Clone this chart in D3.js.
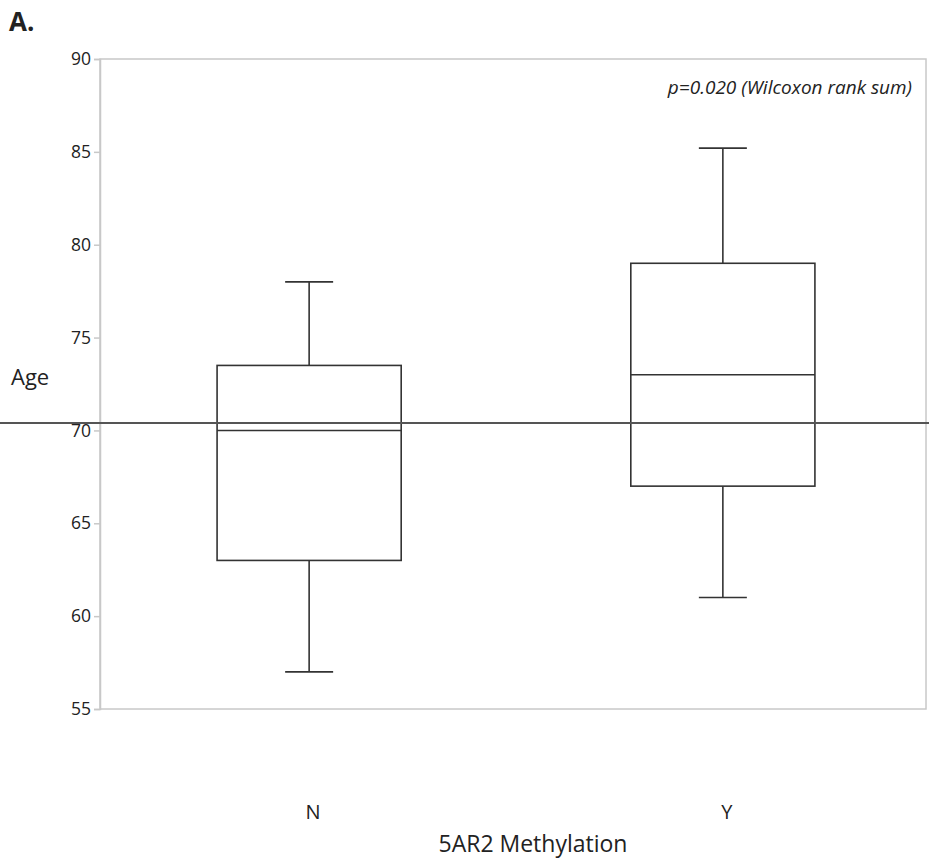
<!DOCTYPE html>
<html>
<head>
<meta charset="utf-8">
<script src="https://cdn.jsdelivr.net/npm/d3@7"></script>
<style>
  body { margin: 0; background: #fff; }
  text { font-family: "Open Sans", "DejaVu Sans", sans-serif; fill: #222; }
</style>
</head>
<body>
<div id="chart"></div>
<script>
// data
var groups = ["N", "Y"];
var whiskerLow = [57, 61];
var q1 = [63, 67];
var medians = [70, 73];
var q3 = [73.5, 79];
var whiskerHigh = [78, 85.2];
var refLine = 70.4;
var yTicks = [55, 60, 65, 70, 75, 80, 85, 90];

(function() {
  var W = 929, H = 863;
  var pl = 100, pr = 926, pt = 59, pb = 709;

  var svg = d3.select("#chart").append("svg")
    .attr("width", W).attr("height", H);

  var y = d3.scaleLinear().domain([55, 90]).range([pb, pt]);
  var x = d3.scaleBand().domain(groups).range([pl, 932])
    .paddingInner(0.555).paddingOuter(0.283);

  // frame
  svg.append("rect")
    .attr("x", pl).attr("y", pt)
    .attr("width", pr - pl).attr("height", pb - pt)
    .attr("fill", "none").attr("stroke", "#c8c8c8").attr("stroke-width", 1.5);

  // y axis
  var yAxis = d3.axisLeft(y).tickValues(yTicks).tickSize(6).tickPadding(3);
  var ga = svg.append("g").attr("transform", "translate(" + pl + ",0)").call(yAxis);
  ga.select(".domain").attr("stroke", "#c8c8c8").attr("stroke-width", 1.5);
  ga.selectAll(".tick line").attr("stroke", "#c8c8c8").attr("stroke-width", 1.5);
  ga.selectAll(".tick text").style("font-size", "17.5px").attr("fill", "#333");

  // boxes
  var capW = 24;
  var boxes = svg.append("g").selectAll("g").data(groups).enter().append("g");
  boxes.each(function(g, i) {
    var s = d3.select(this);
    var x0 = x(g), bw = x.bandwidth(), cx = x0 + bw / 2;
    function ln(x1, y1, x2, y2) {
      s.append("line").attr("x1", x1).attr("y1", y1).attr("x2", x2).attr("y2", y2)
        .attr("stroke", "#333").attr("stroke-width", 1.6);
    }
    ln(cx, y(whiskerLow[i]), cx, y(q1[i]));
    ln(cx, y(q3[i]), cx, y(whiskerHigh[i]));
    ln(cx - capW, y(whiskerLow[i]), cx + capW, y(whiskerLow[i]));
    ln(cx - capW, y(whiskerHigh[i]), cx + capW, y(whiskerHigh[i]));
    s.append("rect").attr("x", x0).attr("y", y(q3[i]))
      .attr("width", bw).attr("height", y(q1[i]) - y(q3[i]))
      .attr("fill", "none").attr("stroke", "#333").attr("stroke-width", 1.6);
    ln(x0, y(medians[i]), x0 + bw, y(medians[i]));
    s.append("text").attr("x", cx + 4).attr("y", 819)
      .attr("text-anchor", "middle").style("font-size", "20px").text(g);
  });

  // reference line across the whole figure
  svg.append("line")
    .attr("x1", 0).attr("x2", W).attr("y1", y(refLine)).attr("y2", y(refLine))
    .attr("stroke", "#555").attr("stroke-width", 2);

  // labels
  svg.append("text").attr("x", 9).attr("y", 31)
    .style("font-size", "26px").style("font-weight", "bold").attr("fill", "#000").text("A.");
  svg.append("text").attr("x", 11).attr("y", 385)
    .style("font-size", "22px").text("Age");
  svg.append("text").attr("x", 533).attr("y", 852).attr("text-anchor", "middle")
    .style("font-size", "23px").text("5AR2 Methylation");
  svg.append("text").attr("x", 912).attr("y", 94).attr("text-anchor", "end")
    .style("font-size", "19px").style("font-style", "italic").text("p=0.020 (Wilcoxon rank sum)");
})();
</script>
</body>
</html>
